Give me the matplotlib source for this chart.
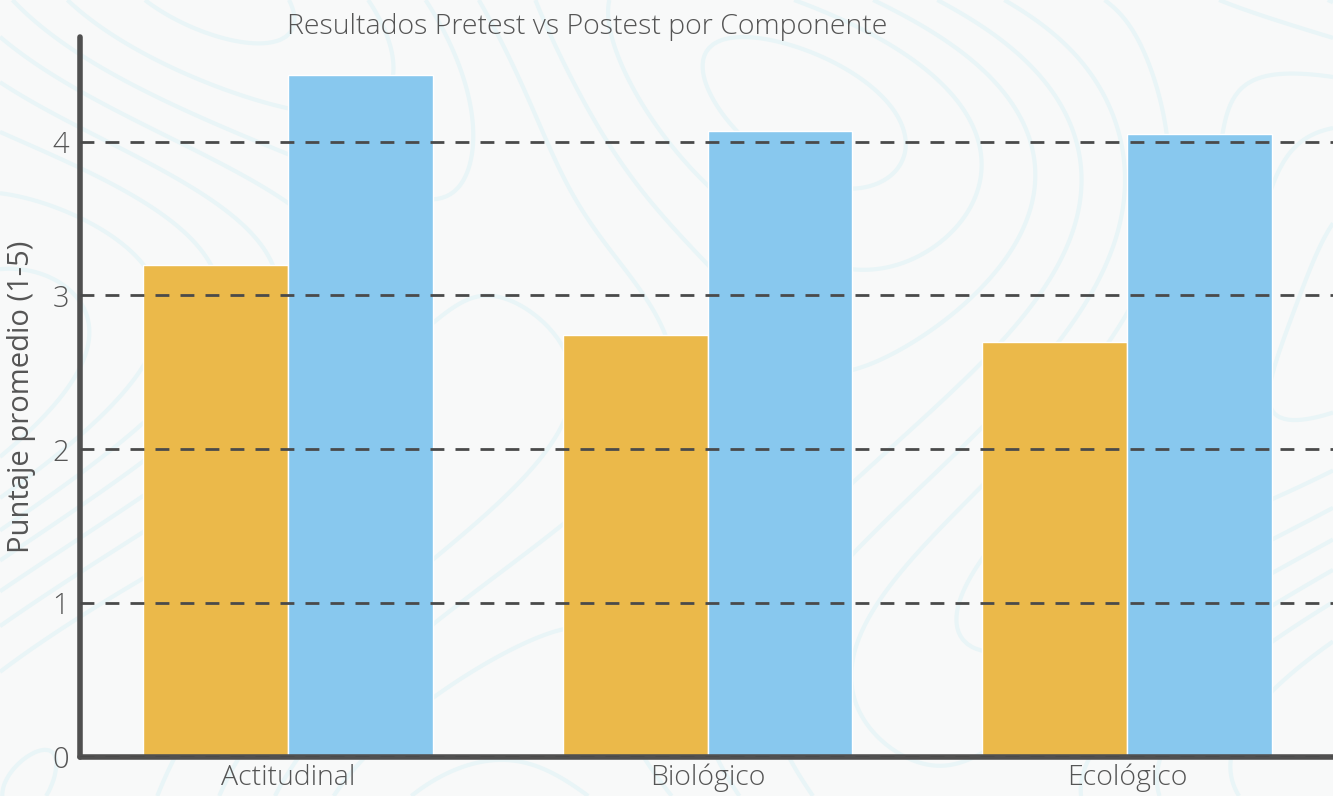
import numpy as np
import matplotlib.pyplot as plt

categories = ['Actitudinal', 'Biológico', 'Ecológico']
pretest = [3.2, 2.74, 2.7]
postest = [4.43, 4.07, 4.05]
yticks = [0, 1, 2, 3, 4]

plt.rcParams['font.family'] = ['Open Sans', 'DejaVu Sans']
plt.rcParams['font.weight'] = 'light'
text_color = '#555555'

fig = plt.figure(figsize=(13.33, 7.96), dpi=100)
fig.patch.set_facecolor('#f8f9f9')

# faint topographic decoration in the background
bg = fig.add_axes([0, 0, 1, 1], zorder=-5)
gx, gy = np.meshgrid(np.linspace(0, 10, 300), np.linspace(0, 6, 200))
gz = np.sin(gx * 0.9 + np.cos(gy * 0.8) * 1.5) + 0.6 * np.cos(gy * 1.1 - gx * 0.4) + 0.1 * gx
bg.contour(gx, gy, gz, levels=10, colors='#e9f5f7', linewidths=3, linestyles='solid')
bg.set_axis_off()

ax = fig.add_axes([80 / 1333, 39 / 796, 1253 / 1333, 720 / 796])
ax.set_facecolor('none')

x = np.arange(len(categories))
w = 0.345
ax.bar(x - w / 2, pretest, width=w, color='#ebb94a', edgecolor='white', linewidth=1, zorder=2)
ax.bar(x + w / 2, postest, width=w, color='#88c8ee', edgecolor='white', linewidth=1, zorder=2)

ax.set_xlim(-0.495, 2.49)
ax.set_ylim(0, 4.68)
ax.set_yticks(yticks)
ax.yaxis.grid(True, linestyle=(0, (5, 4)), color='#4a4a4a', linewidth=2, zorder=3)
ax.set_axisbelow(False)
ax.set_xticks(x)
ax.set_xticklabels(categories)
ax.tick_params(axis='x', length=0, labelsize=20.5, colors=text_color, pad=5)
ax.tick_params(axis='y', length=0, labelsize=21, colors=text_color, pad=8)

for s in ['top', 'right']:
    ax.spines[s].set_visible(False)
for s in ['left', 'bottom']:
    ax.spines[s].set_color('#505050')
    ax.spines[s].set_linewidth(4)
    ax.spines[s].set_capstyle('round')

ax.set_ylabel('Puntaje promedio (1-5)', fontsize=21, color=text_color, labelpad=12)
fig.text(587 / 1333, 1 - 27 / 796, 'Resultados Pretest vs Postest por Componente',
         ha='center', va='center', fontsize=20.5, color=text_color)

fig.savefig('out.png', dpi=100, facecolor=fig.get_facecolor())
